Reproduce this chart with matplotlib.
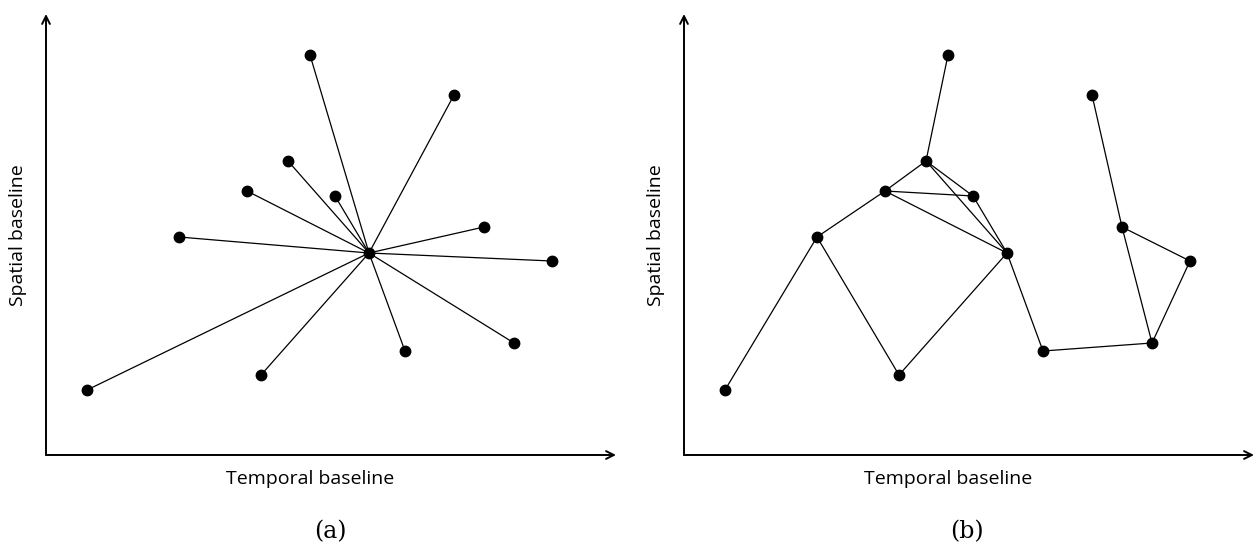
import matplotlib.pyplot as plt

# acquisition positions (temporal, spatial), same set in both panels
temporal = [323, 264, 408, 242, 201, 289, 133, 438, 506, 468, 359, 215, 41]
spatial = [202, 400, 360, 294, 264, 259, 218, 228, 194, 112, 104, 80, 65]

# (a) star network: every image linked to the master (index 0)
star_edges = [(0, i) for i in range(1, len(temporal))]

# (b) small baseline network
sbas_edges = [(12, 6), (6, 4), (6, 11), (11, 0), (4, 3), (3, 1), (4, 5),
              (3, 5), (4, 0), (3, 0), (5, 0), (0, 10), (10, 9), (9, 7),
              (7, 2), (7, 8), (8, 9)]

W, H = 1253, 551
fig = plt.figure(figsize=(W / 100, H / 100), dpi=100)


def draw_panel(x0, edges, tag, tag_x):
    ax = fig.add_axes([x0 / W, (H - 455) / H, 570 / W, 441 / H])
    ax.set_xlim(0, 570)
    ax.set_ylim(0, 441)
    ax.axis("off")
    for a, b in edges:
        ax.plot([temporal[a], temporal[b]], [spatial[a], spatial[b]],
                color="black", lw=0.9, zorder=1)
    ax.plot(temporal, spatial, "o", color="black", ms=7.5, zorder=2)
    arrow = dict(arrowstyle="->", color="black", lw=1.4,
                 shrinkA=0, shrinkB=0, mutation_scale=14)
    ax.annotate("", xy=(570, 0), xytext=(0, 0), arrowprops=arrow,
                annotation_clip=False)
    ax.annotate("", xy=(0, 441), xytext=(0, 0), arrowprops=arrow,
                annotation_clip=False)
    fig.text((x0 + 264) / W, 1 - 479 / H, "Temporal baseline",
             ha="center", va="center", fontsize=14, family="Open Sans")
    fig.text((x0 - 28) / W, 1 - 235 / H, "Spatial baseline", rotation=90,
             ha="center", va="center", fontsize=14, family="Open Sans")
    fig.text(tag_x / W, 1 - 532 / H, tag, ha="center", va="center",
             fontsize=17, family="DejaVu Serif")


draw_panel(46, star_edges, "(a)", 330)
draw_panel(684, sbas_edges, "(b)", 967)

fig.savefig("out.png", dpi=100, facecolor="white")
